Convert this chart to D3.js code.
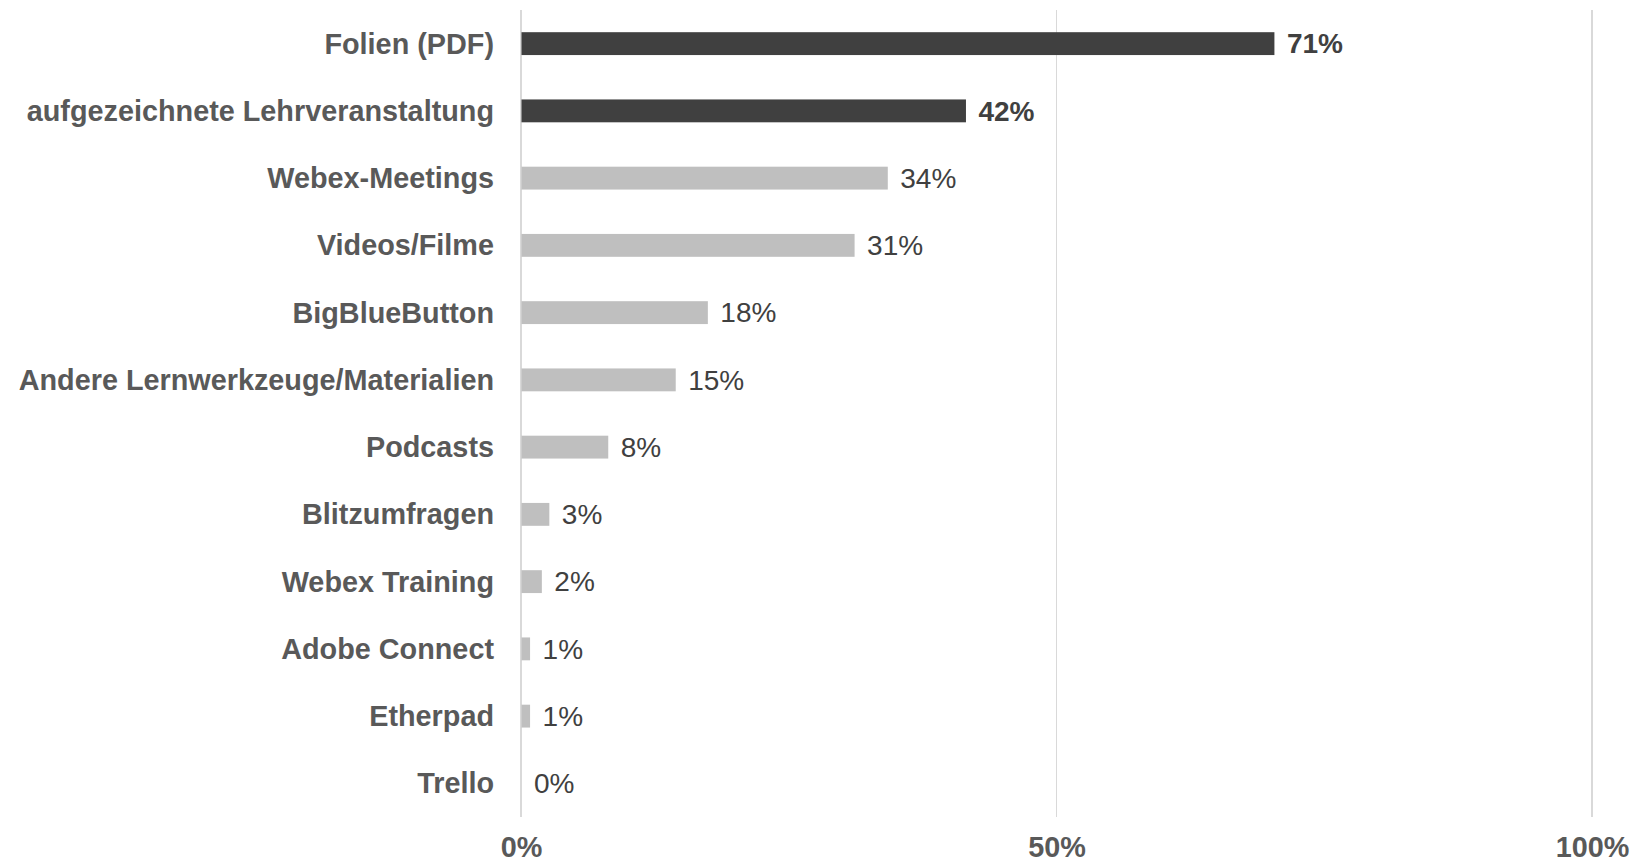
<!DOCTYPE html>
<html>
<head>
<meta charset="utf-8">
<script src="https://cdn.jsdelivr.net/npm/d3@7"></script>
<style>
  html, body { margin: 0; padding: 0; background: #ffffff; }
  svg { display: block; }
</style>
</head>
<body>
<svg id="chart" width="1635" height="864"></svg>
<script>
const categories = [
  "Folien (PDF)",
  "aufgezeichnete Lehrveranstaltung",
  "Webex-Meetings",
  "Videos/Filme",
  "BigBlueButton",
  "Andere Lernwerkzeuge/Materialien",
  "Podcasts",
  "Blitzumfragen",
  "Webex Training",
  "Adobe Connect",
  "Etherpad",
  "Trello"
];
const values = [70.3, 41.5, 34.2, 31.1, 17.4, 14.4, 8.1, 2.6, 1.9, 0.8, 0.8, 0];
const valueLabels = ["71%", "42%", "34%", "31%", "18%", "15%", "8%", "3%", "2%", "1%", "1%", "0%"];
const highlighted = [true, true, false, false, false, false, false, false, false, false, false, false];
const tickValues = [0, 50, 100];
const tickLabels = ["0%", "50%", "100%"];

(function () {
const data = categories.map((c, i) => ({ cat: c, v: values[i], label: valueLabels[i], hi: highlighted[i] }));

const svg = d3.select("#chart");
const mLeft = 521, mRight = 1592, mTop = 10, mBottom = 817;
const font = "Liberation Sans, Arial, Helvetica, sans-serif";

const x = d3.scaleLinear().domain([0, 100]).range([mLeft, mRight]);
const y = d3.scaleBand().domain(categories).range([mTop, mBottom]).paddingInner(0.66).paddingOuter(0.33);

// gridlines
svg.append("g").selectAll("line").data(tickValues).join("line")
  .attr("x1", d => x(d)).attr("x2", d => x(d))
  .attr("y1", mTop).attr("y2", mBottom)
  .attr("stroke", "#d9d9d9").attr("stroke-width", 1.3)
  .attr("shape-rendering", "crispEdges");

// x axis tick labels
const xAxis = d3.axisBottom(x).tickValues(tickValues).tickSize(0).tickPadding(0)
  .tickFormat((d, i) => tickLabels[i]);
const gx = svg.append("g").attr("transform", `translate(0, ${mBottom})`).call(xAxis);
gx.select(".domain").remove();
gx.selectAll("text")
  .attr("y", 40)
  .attr("dy", null)
  .attr("font-family", font).attr("font-size", "28.8px").attr("font-weight", "bold")
  .attr("fill", "#595959");

// y axis category labels
const yAxis = d3.axisLeft(y).tickSize(0).tickPadding(27);
const gy = svg.append("g").attr("transform", `translate(${mLeft}, 0)`).call(yAxis);
gy.select(".domain").remove();
gy.selectAll("text")
  .attr("dy", "0.35em")
  .attr("font-family", font).attr("font-size", "28.8px").attr("font-weight", "bold")
  .attr("fill", "#595959");

// bars
svg.append("g").selectAll("rect").data(data).join("rect")
  .attr("x", x(0) + 0.5)
  .attr("y", d => y(d.cat))
  .attr("width", d => Math.max(0, x(d.v) - x(0)))
  .attr("height", y.bandwidth())
  .attr("fill", d => d.hi ? "#404040" : "#bfbfbf");

// value labels
svg.append("g").selectAll("text").data(data).join("text")
  .attr("x", d => x(d.v) + 13)
  .attr("y", d => y(d.cat) + y.bandwidth() / 2)
  .attr("dy", "0.35em")
  .attr("font-family", font).attr("font-size", "28px")
  .attr("font-weight", d => d.hi ? "bold" : "normal")
  .attr("fill", "#404040")
  .text(d => d.label);
})();
</script>
</body>
</html>
